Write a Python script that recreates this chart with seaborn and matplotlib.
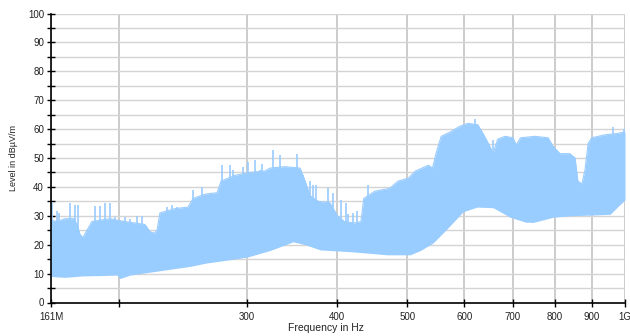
import matplotlib
matplotlib.use("Agg")
import matplotlib.pyplot as plt
import matplotlib.ticker as mticker
import numpy as np
import pandas as pd
import seaborn as sns

# Measured spectrum: upper envelope of the sweep (MHz, dBµV/m)
upper_freq = [161.0, 164.1, 168.3, 173.2, 174.9, 176.6, 178.2, 180.5, 183.4, 188.2,
              194.3, 198.6, 203.8, 210.4, 217.1, 220.6, 223.4, 225.6, 227.7, 239.0,
              249.0, 253.0, 262.9, 273.1, 276.6, 289.1, 303.2, 318.1, 323.2, 339.0,
              355.6, 361.4, 367.1, 376.6, 391.0, 400.7, 409.5, 422.3, 431.6, 435.5,
              451.0, 473.1, 485.7, 501.7, 513.3, 534.9, 541.9, 548.7, 557.2, 573.5,
              591.6, 606.5, 626.1, 638.1, 650.7, 657.0, 666.8, 682.6, 700.3, 707.1,
              717.3, 750.7, 783.1, 795.5, 813.3, 839.3, 853.1, 860.7, 871.9, 880.6,
              889.1, 899.6, 937.0, 975.9, 1000.0]
upper_level = [28.5, 28.0, 29.0, 29.0, 27.0, 23.5, 22.5, 25.0, 28.0, 28.5,
               29.0, 28.5, 28.0, 27.5, 27.0, 24.5, 24.0, 25.0, 31.0, 32.5,
               33.0, 36.0, 37.5, 38.0, 42.0, 44.0, 45.0, 45.5, 46.5, 47.0,
               46.5, 42.0, 37.0, 35.0, 34.5, 30.0, 28.0, 27.5, 28.0, 36.0,
               38.5, 39.5, 42.0, 43.0, 45.5, 47.5, 46.5, 52.0, 57.5, 59.0,
               61.0, 62.0, 61.5, 58.0, 54.0, 51.5, 56.5, 57.5, 57.0, 54.5,
               57.0, 57.5, 57.0, 54.0, 51.5, 51.5, 50.0, 42.0, 41.0, 46.0,
               55.0, 57.0, 58.0, 58.5, 59.0]

# Lower envelope (noise floor) of the sweep
lower_freq = [161.0, 168.3, 178.2, 188.2, 198.6, 200.5, 207.1, 220.6, 235.0, 250.6,
              264.5, 284.6, 300.4, 323.2, 347.8, 361.4, 379.0, 420.9, 469.0, 504.7,
              521.6, 542.9, 570.3, 597.3, 624.4, 657.0, 693.6, 728.5, 746.3, 795.5,
              839.3, 953.6, 975.9, 1000.0]
lower_level = [9.0, 8.7, 9.2, 9.3, 9.5, 8.3, 9.5, 10.5, 11.5, 12.5,
               13.7, 14.8, 15.7, 18.0, 21.0, 20.0, 18.2, 17.5, 16.5, 16.5,
               18.0, 20.6, 26.0, 31.4, 33.0, 32.8, 29.5, 27.8, 27.7, 29.5,
               30.0, 30.5, 33.0, 35.5]

# Narrow emission peaks rising above the envelope
peak_freq = [161.5, 164.1, 165.2, 171.0, 173.8, 175.4, 185.2, 188.2, 191.2, 194.3,
             197.4, 203.8, 207.1, 211.7, 215.1, 232.9, 236.7, 240.5, 253.0, 260.4,
             277.5, 284.6, 287.3, 296.6, 301.4, 308.2, 313.1, 315.1, 326.4, 333.7,
             352.3, 359.1, 367.1, 370.7, 374.2, 388.8, 395.0, 405.2, 411.7, 414.3,
             420.9, 426.3, 441.5, 620.0, 657.0, 962.8, 998.0]
peak_level = [34.5, 31.7, 31.0, 34.5, 33.7, 33.7, 33.5, 33.5, 34.5, 34.5,
              29.6, 29.5, 29.0, 30.0, 30.0, 33.0, 33.7, 33.0, 39.0, 40.0,
              47.7, 47.7, 46.0, 47.0, 48.7, 49.4, 46.0, 47.8, 52.9, 51.0,
              51.5, 44.0, 42.0, 40.7, 40.7, 39.7, 38.0, 35.5, 34.4, 30.5,
              31.0, 31.5, 40.7, 63.5, 56.3, 60.8, 60.0]

tick_freq = [161, 200, 300, 400, 500, 600, 700, 800, 900, 1000]
tick_text = ["161M", "", "300", "400", "500", "600", "700", "800", "900", "1G"]

fill_color = "#99ccff"

sns.set_theme(style="whitegrid")
plt.rcParams["font.family"] = ["Liberation Sans", "DejaVu Sans"]

fig = plt.figure(figsize=(6.3, 3.36), dpi=100)
ax = fig.add_axes([51 / 630, 1 - 302.5 / 336, 574 / 630, 289 / 336])

# Common frequency grid for the band between the two envelopes
grid_f = np.array(sorted(set(upper_freq) | set(lower_freq)))
up = np.interp(grid_f, upper_freq, upper_level)
lo = np.interp(grid_f, lower_freq, lower_level)
ax.fill_between(grid_f, lo, up, color=fill_color, linewidth=0, zorder=2)

env = pd.DataFrame({"freq": upper_freq, "level": upper_level})
sns.lineplot(data=env, x="freq", y="level", ax=ax, color=fill_color,
             linewidth=0.8, zorder=2)

peak_base = np.interp(peak_freq, lower_freq, lower_level)
ax.vlines(peak_freq, peak_base, peak_level, color=fill_color, linewidth=1.2, zorder=2)

ax.set_xscale("log")
ax.set_xlim(161, 1000)
ax.set_ylim(0, 100)

ax.xaxis.set_major_locator(mticker.FixedLocator(tick_freq))
ax.xaxis.set_major_formatter(mticker.FixedFormatter(tick_text))
ax.xaxis.set_minor_locator(mticker.NullLocator())
ax.yaxis.set_major_locator(mticker.MultipleLocator(10))
ax.yaxis.set_minor_locator(mticker.MultipleLocator(5))

ax.set_facecolor("white")
ax.grid(True, which="major", axis="x", color="#c8c8c8", linewidth=1.3, zorder=1)
ax.grid(True, which="both", axis="y", color="#d4d4d4", linewidth=1.0, zorder=1)
ax.set_axisbelow(True)

for side in ("top", "right"):
    ax.spines[side].set_visible(False)
for side in ("left", "bottom"):
    ax.spines[side].set_visible(True)
    ax.spines[side].set_color("black")
    ax.spines[side].set_linewidth(1.2)
    ax.spines[side].set_zorder(4)

ax.tick_params(axis="both", which="both", direction="inout", length=6, width=1,
               color="black", labelsize=7, labelcolor="#222222", pad=2,
               bottom=True, left=True)
ax.tick_params(axis="x", pad=4)

ax.set_xlabel("")
ax.set_ylabel("")
fig.text(14 / 630, 1 - 158 / 336, "Level in dBµV/m", rotation=90, ha="center",
         va="center", fontsize=6.5, color="#222222")
fig.text(326 / 630, 1 - 328 / 336, "Frequency in Hz", ha="center", va="center",
         fontsize=7.5, color="#222222")

fig.savefig("out.png", dpi=100)
